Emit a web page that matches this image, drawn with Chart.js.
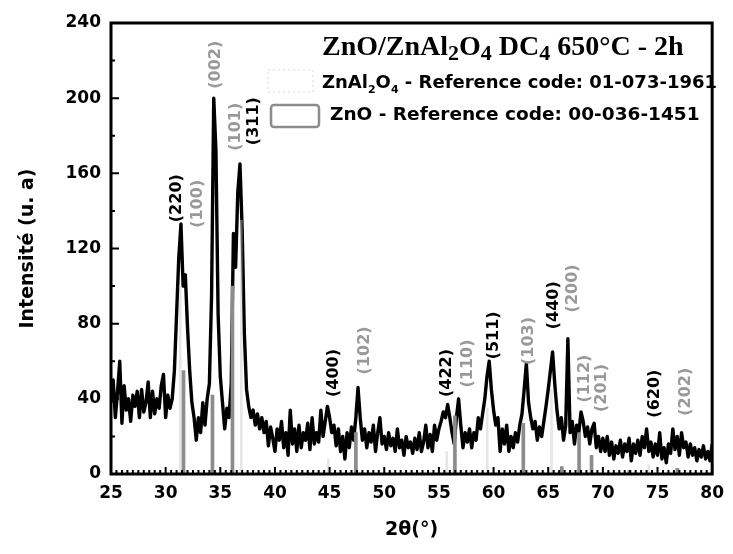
<!DOCTYPE html>
<html>
<head>
<meta charset="utf-8">
<script src="https://cdn.jsdelivr.net/npm/chart.js@4.4.1/dist/chart.umd.min.js"></script>
<style>
  html, body { margin: 0; padding: 0; background: #fff; }
  #xrd { display: block; }
</style>
</head>
<body>
<canvas id="xrd" width="733" height="554"></canvas>
<script>
// Scan: 25° -> 80°, pas de 0.2°
const scanStart = 25;
const scanStep = 0.2;
const intensity = [
  38, 50, 30, 44, 60, 27, 47, 34, 40, 28, 42, 36, 44, 30, 45, 33, 38, 49, 30, 44, 32, 40, 35, 47, 53,
  30, 42, 35, 40, 55, 85, 115, 133, 100, 106, 78, 55, 38, 30, 18, 30, 22, 38, 26, 40, 48, 95, 200, 172, 85,
  52, 38, 24, 35, 30, 48, 128, 110, 150, 165, 130, 75, 45, 36, 30, 34, 26, 32, 24, 30, 22, 28, 15, 25, 19,
  12, 24, 18, 28, 14, 22, 10, 34, 16, 24, 12, 26, 14, 22, 18, 27, 13, 30, 16, 22, 17, 34, 20, 28, 36,
  30, 22, 26, 15, 24, 12, 20, 8, 22, 14, 25, 18, 30, 46, 30, 18, 24, 14, 22, 17, 26, 12, 22, 30, 16,
  20, 13, 22, 15, 19, 12, 24, 14, 18, 10, 20, 14, 17, 11, 19, 13, 22, 12, 17, 26, 14, 21, 12, 26, 18,
  24, 28, 33, 30, 37, 30, 22, 16, 30, 40, 26, 14, 22, 17, 24, 14, 22, 18, 30, 24, 32, 40, 52, 60, 45,
  34, 26, 30, 12, 24, 16, 26, 12, 20, 14, 22, 17, 26, 32, 45, 59, 38, 30, 24, 28, 18, 25, 20, 28, 36,
  45, 55, 65, 48, 34, 24, 30, 18, 26, 72, 22, 28, 16, 26, 22, 33, 28, 20, 25, 16, 24, 27, 14, 20, 12,
  19, 12, 20, 10, 17, 8, 15, 11, 18, 9, 16, 12, 19, 7, 16, 11, 18, 10, 20, 14, 24, 12, 17, 9, 16,
  10, 22, 8, 14, 6, 16, 11, 24, 13, 20, 10, 22, 14, 17, 9, 16, 10, 14, 7, 13, 9, 15, 8, 12, 7,
  16
];

// Fiches de référence
const znoPeaks = [31.77, 34.42, 36.25, 47.54, 56.60, 62.86, 66.38, 67.96, 69.10, 72.56, 76.95];
const znoHeights = [55, 42, 100, 22, 31, 27, 4, 22, 10, 2, 3];
const spinelPeaks = [31.24, 36.83, 44.79, 55.63, 59.32, 65.21, 74.10];
const spinelHeights = [100, 135, 8, 12, 35, 45, 5];

// Indexation des pics (s = ZnAl2O4, z = ZnO)
const hklTexts = ['(220)', '(100)', '(002)', '(101)', '(311)', '(400)', '(102)', '(422)', '(110)',
                  '(511)', '(103)', '(440)', '(200)', '(112)', '(201)', '(620)', '(202)'];
const hklAngles = [30.99, 32.99, 34.62, 36.43, 38.07, 45.42, 48.23, 55.76, 57.67,
                   60.03, 63.2, 65.47, 67.29, 68.38, 69.92, 74.73, 77.63];
const hklLevels = [134, 131, 205, 172, 175, 41, 53, 41, 46, 61, 58, 77, 86, 38, 33, 30, 31];
const hklPhases = ['s', 'z', 'z', 'z', 's', 's', 'z', 's', 'z', 's', 'z', 's', 'z', 'z', 'z', 's', 'z'];

// Texte avec indices
function drawRich(ctx, parts, x, y, font, subFont, subShift) {
    let cx = x;
    parts.forEach(p => {
        ctx.font = p.sub ? subFont : font;
        ctx.fillText(p.t, cx, p.sub ? y + subShift : y);
        cx += ctx.measureText(p.t).width;
    });
}

const decorPlugin = {
    id: 'decor',
    afterDraw(chart) {
        const ctx = chart.ctx;
        const area = chart.chartArea;
        const xs = chart.scales.x;
        const ys = chart.scales.y;
        ctx.save();

        // Graduations intérieures
        ctx.strokeStyle = '#000';
        ctx.lineWidth = 2;
        ctx.beginPath();
        for (let i = 0; i <= 110; i++) {
            const v = 25 + i * 0.5;
            const px = xs.getPixelForValue(v);
            const len = (i % 10 === 0) ? 7 : 4;
            ctx.moveTo(px, area.bottom);
            ctx.lineTo(px, area.bottom - len);
        }
        for (let v = 0; v <= 240; v += 20) {
            const py = ys.getPixelForValue(v);
            const len = (v % 40 === 0) ? 8 : 4;
            ctx.moveTo(area.left, py);
            ctx.lineTo(area.left + len, py);
        }
        ctx.stroke();

        // Cadre
        ctx.lineWidth = 3;
        ctx.strokeRect(area.left, area.top, area.right - area.left, area.bottom - area.top);

        // Indices (hkl)
        ctx.font = 'bold 16px "DejaVu Sans"';
        ctx.textAlign = 'left';
        ctx.textBaseline = 'middle';
        hklTexts.forEach((t, i) => {
            const px = xs.getPixelForValue(hklAngles[i]);
            const py = ys.getPixelForValue(hklLevels[i]);
            ctx.save();
            ctx.translate(px, py);
            ctx.rotate(-Math.PI / 2);
            ctx.fillStyle = hklPhases[i] === 's' ? '#000' : '#999';
            ctx.fillText(t, 0, 0);
            ctx.restore();
        });

        // Titre et légende
        ctx.textBaseline = 'alphabetic';
        ctx.fillStyle = '#000';
        drawRich(ctx, [
            { t: 'ZnO/ZnAl' }, { t: '2', sub: true }, { t: 'O' }, { t: '4', sub: true },
            { t: ' DC' }, { t: '4', sub: true }, { t: ' 650°C - 2h' }
        ], 322, 55, 'bold 28px "Liberation Serif"', 'bold 22px "Liberation Serif"', 5);

        drawRich(ctx, [
            { t: 'ZnAl' }, { t: '2', sub: true }, { t: 'O' }, { t: '4', sub: true },
            { t: ' - Reference code: 01-073-1961' }
        ], 322, 88, 'bold 18px "DejaVu Sans"', 'bold 11px "DejaVu Sans"', 5);

        drawRich(ctx, [{ t: 'ZnO - Reference code: 00-036-1451' }],
            330, 120, 'bold 18.5px "DejaVu Sans"', 'bold 11px "DejaVu Sans"', 5);

        ctx.setLineDash([2, 3]);
        ctx.strokeStyle = '#d8d8d8';
        ctx.lineWidth = 1;
        ctx.strokeRect(268, 70, 45, 22);
        ctx.setLineDash([]);
        ctx.strokeStyle = '#8c8c8c';
        ctx.lineWidth = 2.5;
        ctx.beginPath();
        ctx.roundRect(271, 105, 48, 22, 3);
        ctx.stroke();

        ctx.restore();
    }
};

new Chart(document.getElementById('xrd'), {
    type: 'line',
    data: {
        datasets: [
            {
                type: 'line',
                label: 'DC4',
                data: intensity.map((v, i) => ({ x: scanStart + i * scanStep, y: v })),
                borderColor: '#000',
                borderWidth: 3.4,
                borderJoinStyle: 'round',
                pointRadius: 0,
                tension: 0,
                fill: false,
                order: 2
            },
            {
                type: 'bar',
                label: 'ZnO',
                data: znoPeaks.map((p, i) => ({ x: p, y: znoHeights[i] })),
                backgroundColor: '#8c8c8c',
                barThickness: 3,
                order: 0
            },
            {
                type: 'bar',
                label: 'ZnAl2O4',
                data: spinelPeaks.map((p, i) => ({ x: p, y: spinelHeights[i] })),
                backgroundColor: 'rgba(200,200,200,0.45)',
                barThickness: 2,
                order: 1
            }
        ]
    },
    options: {
        responsive: false,
        animation: false,
        devicePixelRatio: 1,
        layout: { padding: { top: 23, right: 16, left: 0, bottom: 0 } },
        plugins: {
            legend: { display: false },
            tooltip: { enabled: false }
        },
        scales: {
            x: {
                type: 'linear',
                min: 25,
                max: 80,
                offset: false,
                grid: { display: false, drawTicks: false },
                border: { display: false },
                ticks: {
                    stepSize: 5,
                    padding: 9,
                    color: '#000',
                    font: { family: 'DejaVu Sans', size: 17, weight: 'bold' },
                    maxRotation: 0
                },
                title: {
                    display: true,
                    text: '2θ(°)',
                    color: '#000',
                    font: { family: 'DejaVu Sans', size: 19, weight: 'bold' },
                    padding: { top: 0, bottom: 13 }
                },
                afterFit: scale => { scale.height = 80; }
            },
            y: {
                min: 0,
                max: 240,
                grid: { display: false, drawTicks: false },
                border: { display: false },
                ticks: {
                    stepSize: 40,
                    padding: 10,
                    color: '#000',
                    font: { family: 'DejaVu Sans', size: 17, weight: 'bold' }
                },
                title: {
                    display: true,
                    text: 'Intensité (u. a)',
                    color: '#000',
                    font: { family: 'DejaVu Sans', size: 19, weight: 'bold' },
                    padding: { top: 17, bottom: 0 }
                },
                afterFit: scale => { scale.width = 111; }
            }
        }
    },
    plugins: [decorPlugin]
});
</script>
</body>
</html>
